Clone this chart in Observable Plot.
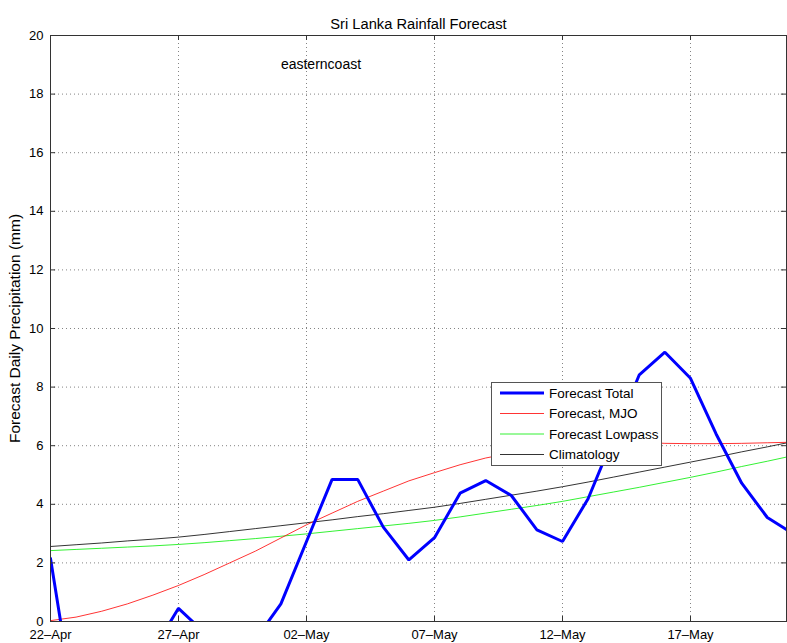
<!DOCTYPE html>
<html>
<head>
<meta charset="utf-8">
<script src="https://cdn.jsdelivr.net/npm/d3@7"></script>
<script src="https://cdn.jsdelivr.net/npm/@observablehq/plot@0.6"></script>
<style>
  html, body { margin: 0; padding: 0; background: #fff; }
  #chart { width: 787px; height: 643px; }
</style>
</head>
<body>
<div id="chart"></div>
<script>
// ---- Data ----
const dates = [
  "2013-04-22","2013-04-23","2013-04-24","2013-04-25","2013-04-26","2013-04-27","2013-04-28","2013-04-29","2013-04-30",
  "2013-05-01","2013-05-02","2013-05-03","2013-05-04","2013-05-05","2013-05-06","2013-05-07","2013-05-08","2013-05-09",
  "2013-05-10","2013-05-11","2013-05-12","2013-05-13","2013-05-14","2013-05-15","2013-05-16","2013-05-17","2013-05-18",
  "2013-05-19","2013-05-20","2013-05-21"
];
const forecastTotal = [2.15,-3.3,-3.0,-2.0,-0.99,0.45,-0.37,-1.0,-0.62,0.6,2.73,4.85,4.85,3.22,2.1,2.86,4.38,4.81,4.3,3.13,2.73,4.19,6.3,8.42,9.19,8.3,6.4,4.72,3.55,3.0];
const forecastMJO = [0.03,0.15,0.35,0.6,0.9,1.23,1.6,2.0,2.4,2.85,3.3,3.7,4.1,4.45,4.8,5.08,5.35,5.58,5.75,5.9,6.02,6.1,6.14,6.12,6.08,6.07,6.07,6.08,6.1,6.12];
const forecastLowpass = [2.42,2.46,2.50,2.54,2.58,2.63,2.69,2.76,2.83,2.91,2.99,3.08,3.17,3.26,3.35,3.45,3.57,3.70,3.83,3.96,4.10,4.26,4.42,4.58,4.75,4.92,5.10,5.29,5.47,5.66];
const climatology = [2.56,2.62,2.68,2.75,2.81,2.88,2.97,3.07,3.17,3.27,3.37,3.47,3.58,3.68,3.79,3.90,4.03,4.17,4.31,4.45,4.60,4.76,4.93,5.10,5.27,5.44,5.61,5.79,5.96,6.14];

const xTicks = ["2013-04-22","2013-04-27","2013-05-02","2013-05-07","2013-05-12","2013-05-17"];
const xTickLabels = ["22\u2013Apr","27\u2013Apr","02\u2013May","07\u2013May","12\u2013May","17\u2013May"];
const yTicks = [0,2,4,6,8,10,12,14,16,18,20];
const xDomain = ["2013-04-22T00:00Z","2013-05-20T18:00Z"];

const seriesNames = ["Forecast Total","Forecast, MJO","Forecast Lowpass","Climatology"];
const seriesColors = ["#0000ff","#ff0000","#00ee00","#000000"];
const seriesWidths = [3,0.8,0.8,0.8];

// ---- Build ----
const parse = s => new Date(s.length === 10 ? s + "T00:00Z" : s);
const seriesData = [forecastTotal, forecastMJO, forecastLowpass, climatology].map(vals =>
  dates.map((d, i) => ({date: parse(d), value: vals[i]}))
);
const tickDates = xTicks.map(parse);
const labelOf = new Map(tickDates.map((d, i) => [+d, xTickLabels[i]]));
const x0 = parse(xDomain[0]), x1 = parse(xDomain[1]);
const tickLenDays = 0.2 * 86400000;
const tickLenY = 0.17;

const font = "'Liberation Sans', Arial, Helvetica, sans-serif";

const lineMarks = [3,2,1,0].map(i =>
  Plot.line(seriesData[i], {x: "date", y: "value", stroke: seriesColors[i], strokeWidth: seriesWidths[i], clip: true, strokeLinejoin: "miter"})
);

const chart = Plot.plot({
  width: 787,
  height: 643,
  marginLeft: 50,
  marginRight: 1,
  marginTop: 35,
  marginBottom: 22,
  style: {fontFamily: font, fontSize: "13px", background: "#fff", color: "#000"},
  x: {type: "utc", domain: [x0, x1]},
  y: {domain: [0, 20]},
  marks: [
    Plot.gridX(tickDates, {stroke: "#777", strokeOpacity: 0.9, strokeDasharray: "1,3"}),
    Plot.gridY(yTicks, {stroke: "#777", strokeOpacity: 0.9, strokeDasharray: "1,3"}),
    ...lineMarks,
    // inward ticks
    Plot.ruleX(tickDates, {y1: 0, y2: tickLenY, stroke: "#333"}),
    Plot.ruleX(tickDates, {y1: 20 - tickLenY, y2: 20, stroke: "#333"}),
    Plot.ruleY(yTicks, {x1: x0, x2: new Date(+x0 + tickLenDays), stroke: "#333"}),
    Plot.ruleY(yTicks, {x1: new Date(+x1 - tickLenDays), x2: x1, stroke: "#333"}),
    Plot.frame({stroke: "#333"}),
    Plot.axisX(tickDates, {tickSize: 0, tickPadding: 8, tickFormat: d => labelOf.get(+d), label: null, fontSize: 13}),
    Plot.axisY(yTicks, {tickSize: 0, tickPadding: 7, label: null, fontSize: 13}),
    Plot.text(["Forecast Daily Precipitation (mm)"], {frameAnchor: "left", textAnchor: "middle", dx: -35, rotate: -90, fontSize: 15.5, text: d => d}),
    Plot.text(["Sri Lanka Rainfall Forecast"], {frameAnchor: "top", dy: -17, fontSize: 14.7, text: d => d}),
    Plot.text(["easterncoast"], {x: parse("2013-05-01T00:00Z"), y: 19, textAnchor: "start", fontSize: 14, text: d => d})
  ]
});

// ---- Legend (drawn into the same SVG) ----
const svg = d3.select(chart);
const lg = svg.append("g").attr("transform", "translate(491,382)")
  .attr("font-family", font).attr("font-size", 13.5).attr("text-anchor", "start");
lg.append("rect").attr("x", 0.5).attr("y", 0.5).attr("width", 170).attr("height", 83)
  .attr("fill", "#fff").attr("stroke", "#555");
seriesNames.forEach((name, i) => {
  const cy = 11 + i * 20.5;
  lg.append("line").attr("x1", 9).attr("x2", 53).attr("y1", cy).attr("y2", cy)
    .attr("stroke", seriesColors[i]).attr("stroke-width", seriesWidths[i]);
  lg.append("text").attr("x", 58).attr("y", cy).attr("dy", "0.35em")
    .attr("text-anchor", "start").attr("fill", "#000").text(name);
});

document.getElementById("chart").appendChild(chart);
</script>
</body>
</html>
